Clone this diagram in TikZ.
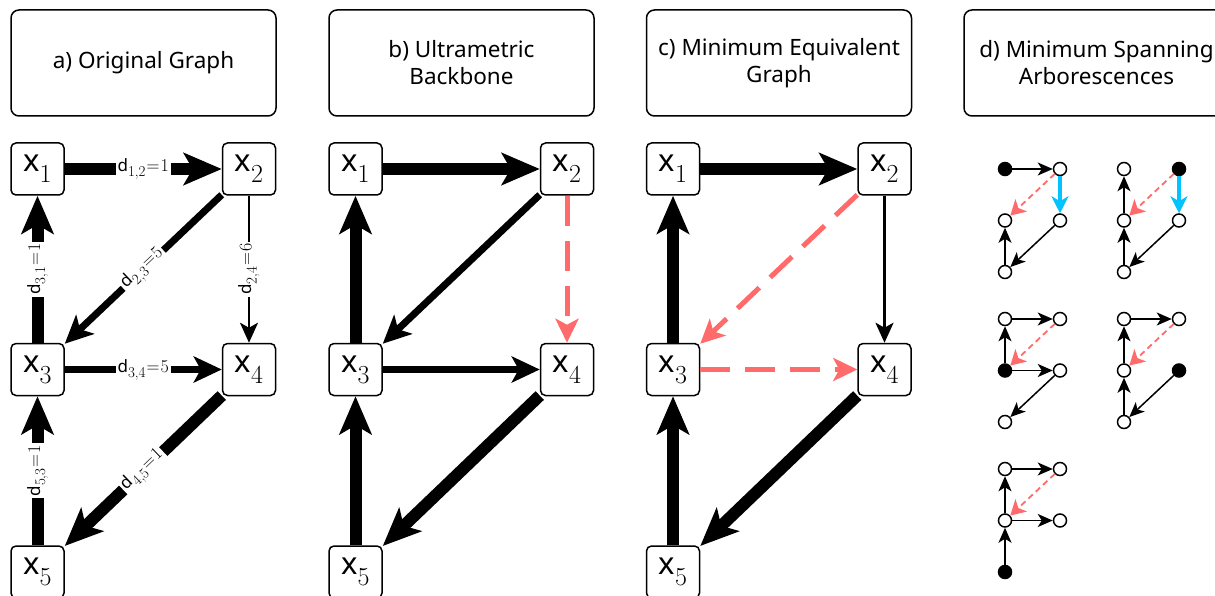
\documentclass[tikz,border=0pt]{standalone}
\usepackage{fontspec}
\newfontfamily\sans{Noto Sans}
\usetikzlibrary{arrows.meta}
\definecolor{myred}{RGB}{255,107,107}
\definecolor{mycyan}{RGB}{0,195,255}
\newcommand\xn[1]{{\sans\fontsize{31}{31}\selectfont x}\raisebox{-11pt}{\fontsize{26}{26}\selectfont\rmfamily #1}}
\newcommand\dl[2]{{\sans\fontsize{17}{17}\selectfont d}\raisebox{-5pt}{\fontsize{15}{15}\selectfont\rmfamily #1}{\fontsize{18}{18}\selectfont\rmfamily\kern1pt=\kern1pt#2}}
\newcommand\mkgraph[4]{%
  \foreach \i/\px/\py in {1/0/0,2/55/0,3/0/51.5,4/55/51.5,5/0/103}{%
    \ifnum\i=#4\relax\def\fc{black}\else\def\fc{white}\fi
    \node[sn,fill=\fc] (#1\i) at (#2+\px,#3+\py) {};}}
\begin{document}
\begin{tikzpicture}[x=1pt,y=-1pt,
  hdr/.style={draw,line width=1.5pt,rounded corners=8pt,minimum width=265pt,minimum height=106pt,align=center,inner sep=0pt,font=\sans\fontsize{22.5}{27}\selectfont},
  bn/.style={draw,line width=1.5pt,rounded corners=5pt,minimum width=53pt,minimum height=52pt,inner sep=0pt,fill=white},
  lab/.style={fill=white,inner sep=2pt},
  thk/.style={line width=12pt,-{Stealth[length=38pt,width=32pt,inset=9pt]}},
  med/.style={line width=7pt,-{Stealth[length=28pt,width=26pt,inset=7pt]}},
  thn/.style={line width=2.5pt,-{Stealth[length=20pt,width=18pt,inset=5pt]}},
  rdash/.style={line width=5pt,myred,dash pattern=on 30pt off 15pt,-{Stealth[length=24pt,width=23pt,inset=6pt]}},
  sn/.style={circle,draw,line width=1.5pt,minimum size=13pt,inner sep=0pt},
  se/.style={line width=1.5pt,-{Stealth[length=15pt,width=13pt,inset=4pt]}},
  sc/.style={line width=4pt,mycyan,-{Stealth[length=17pt,width=17pt,inset=5pt]}},
  sr/.style={line width=1.8pt,myred,dash pattern=on 6pt off 4pt,-{Stealth[length=15pt,width=17pt,inset=4pt]}}
]
\useasboundingbox (0,0) rectangle (1215,596);
\clip (0,0) rectangle (1215,596);
% headers
\node[hdr] (ha) at (143.5,63) {a) Original Graph};
\node[hdr] (hb) at (461.5,63) {b) Ultrametric\\Backbone};
\node[hdr] (hc) at (779,63) {c) Minimum Equivalent\\Graph};
\node[hdr] (hd) at (1096.5,63) {d) Minimum Spanning\\Arborescences};
% big nodes
\foreach \p/\o in {a/0,b/318,c/635.5}{
  \node[bn] (\p1) at (37.5+\o,169) {\xn{1}};
  \node[bn] (\p2) at (249+\o,169) {\xn{2}};
  \node[bn] (\p3) at (37.5+\o,369.5) {\xn{3}};
  \node[bn] (\p4) at (249+\o,369.5) {\xn{4}};
  \node[bn] (\p5) at (37.5+\o,572) {\xn{5}};
}
% panel a
\draw[thk] (a1) -- node[lab]{\dl{1,2}{1}} (a2);
\draw[thk] (a3) -- node[lab,rotate=90]{\dl{3,1}{1}} (a1);
\draw[med] (a2) -- node[lab,sloped]{\dl{2,3}{5}} (a3);
\draw[thn] (a2) -- node[lab,rotate=90]{\dl{2,4}{6}} (a4);
\draw[med] (a3) -- node[lab]{\dl{3,4}{5}} (a4);
\draw[thk] (a4) -- node[lab,sloped]{\dl{4,5}{1}} (a5);
\draw[thk] (a5) -- node[lab,rotate=90]{\dl{5,3}{1}} (a3);
% panel b
\draw[thk] (b1) -- (b2);
\draw[thk] (b3) -- (b1);
\draw[med] (b2) -- (b3);
\draw[rdash] (b2) -- (b4);
\draw[med] (b3) -- (b4);
\draw[thk] (b4) -- (b5);
\draw[thk] (b5) -- (b3);
% panel c
\draw[thk] (c1) -- (c2);
\draw[thk] (c3) -- (c1);
\draw[rdash] (c2) -- (c3);
\draw[thn] (c2) -- (c4);
\draw[rdash] (c3) -- (c4);
\draw[thk] (c4) -- (c5);
\draw[thk] (c5) -- (c3);
% panel d
\mkgraph{p}{1005}{169}{1}
\mkgraph{q}{1124}{169}{2}
\mkgraph{r}{1005}{319}{3}
\mkgraph{s}{1124}{319}{4}
\mkgraph{t}{1005}{469}{5}
% d1 root x1
\draw[se] (p1) -- (p2);
\draw[sc] (p2) -- (p4);
\draw[sr] (p2) -- (p3);
\draw[se] (p4) -- (p5);
\draw[se] (p5) -- (p3);
% d2 root x2
\draw[se] (q3) -- (q1);
\draw[sc] (q2) -- (q4);
\draw[sr] (q2) -- (q3);
\draw[se] (q4) -- (q5);
\draw[se] (q5) -- (q3);
% d3 root x3
\draw[se] (r3) -- (r1);
\draw[se] (r1) -- (r2);
\draw[sr] (r2) -- (r3);
\draw[se] (r3) -- (r4);
\draw[se] (r4) -- (r5);
% d4 root x4
\draw[se] (s5) -- (s3);
\draw[se] (s3) -- (s1);
\draw[se] (s1) -- (s2);
\draw[sr] (s2) -- (s3);
\draw[se] (s4) -- (s5);
% d5 root x5
\draw[se] (t5) -- (t3);
\draw[se] (t3) -- (t1);
\draw[se] (t1) -- (t2);
\draw[sr] (t2) -- (t3);
\draw[se] (t3) -- (t4);
\end{tikzpicture}
\end{document}
